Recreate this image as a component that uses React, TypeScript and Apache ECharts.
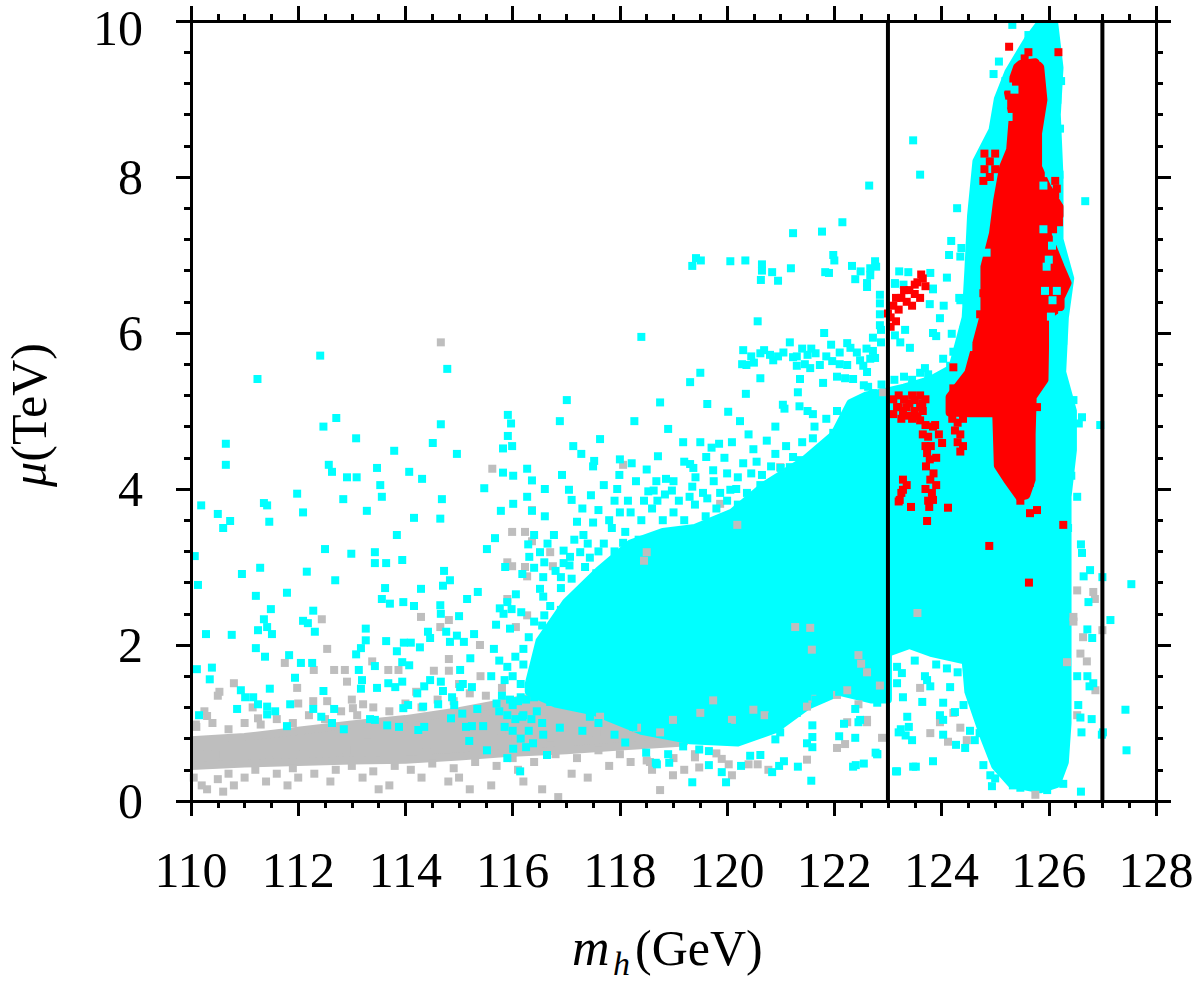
import React, { useEffect, useRef } from "react";
import * as echarts from "echarts";

type P = [number, number];

const FONT = '"Liberation Serif", "Times New Roman", serif';

// axis ranges / ticks
const xRange: P = [110, 128];
const yRange: P = [0, 10];
const xStep = 2;
const yStep = 2;
const vLines = [123, 127];

// dense cores (outlines, data coordinates)
const grayCore: P[] = [[110.0,0.45],[110.0,0.78],[111,0.82],[112,0.9],[113,0.98],[114,1.05],[115,1.15],[116,1.28],[117,1.42],[118,1.5],[119,1.3],[119.6,1.0],[119.2,0.75],[118,0.7],[117,0.65],[116,0.62],[115,0.57],[114,0.53],[113,0.52],[112,0.5],[111,0.48]];

const cyanCoreMain: P[] = [[116.3,1.5],[116.5,2.05],[117.0,2.55],[117.6,2.95],[118.2,3.3],[118.8,3.45],[119.4,3.5],[120.1,3.7],[120.7,4.05],[121.4,4.35],[122.0,4.7],[122.3,5.1],[122.6,5.2],[123.0,5.25],[123.0,1.3],[122.7,1.3],[122.1,1.4],[121.5,1.22],[120.9,0.92],[120.2,0.75],[119.3,0.78],[118.4,0.9],[117.5,1.15],[116.8,1.25],[116.3,1.4]];

const cyanCoreRight: P[] = [[123.0,5.25],[123.3,5.3],[123.8,5.4],[124.2,5.55],[124.45,6.2],[124.5,6.8],[124.55,7.5],[124.65,8.2],[124.95,8.6],[125.05,9.0],[125.25,9.35],[125.6,9.75],[125.85,9.98],[126.1,9.98],[126.2,9.4],[126.15,8.8],[126.2,8.0],[126.2,7.2],[126.4,6.7],[126.3,6.2],[126.25,5.5],[126.45,5.0],[126.45,4.5],[126.35,3.9],[126.35,2.5],[126.35,1.0],[126.3,0.5],[126.15,0.22],[125.85,0.15],[125.3,0.22],[125.0,0.45],[124.8,0.8],[124.5,1.4],[124.45,1.8],[123.8,1.9],[123.4,2.0],[123.0,1.9]];

const redCore: P[] = [[125.48,9.45],[125.75,9.47],[125.84,9.41],[125.9,8.99],[125.8,8.56],[125.8,8.13],[125.97,7.87],[126.2,7.62],[126.2,7.5],[125.97,7.28],[126.22,6.85],[126.35,6.64],[126.22,6.45],[126.22,6.33],[125.93,6.2],[125.93,5.82],[125.92,5.4],[125.7,5.18],[125.68,4.7],[125.68,4.12],[125.58,3.92],[125.45,3.9],[125.22,4.12],[125.05,4.3],[125.02,4.97],[124.53,4.97],[124.15,4.98],[124.15,5.18],[124.5,5.49],[124.63,5.82],[124.8,6.26],[124.8,6.85],[124.96,7.28],[125.04,7.71],[125.15,8.13],[125.28,8.35],[125.33,8.77],[125.24,9.08],[125.41,9.41]];

// individual points
const grayPoints: P[] = [
[114.66,5.88],[115.62,4.26],[116.36,3.33],[115.99,3.01],[116.23,3.0],[115.9,2.59],[116.27,2.38],[114.29,2.36],[114.81,2.32],[112.44,2.33],[112.54,1.95],[114.65,2.23],[116.06,2.23],[115.39,2.0],[114.81,1.82],[111.75,1.77],[113.38,1.79],[110.8,1.51],[110.53,1.4],[110.5,1.35],[112.29,1.68],[112.67,1.68],[112.87,1.68],[112.91,1.53],[113.68,1.68],[113.87,1.68],[114.53,1.67],[114.81,1.67],[111.98,1.45],[112.28,1.28],[112.54,1.28],[113.21,1.24],[113.02,1.19],[110.3,1.09],[110.09,0.98],[111.25,1.06],
[116.36,3.73],[119.87,3.81],[120.19,3.54],[115.99,3.45],[116.23,3.45],[116.7,3.19],[115.9,3.06],[116.27,2.88],[116.75,3.01],[118.45,3.08],[118.5,3.19],[116.0,1.14],[116.27,1.0],[116.04,0.97],[116.45,1.01],[116.64,1.1],[116.7,0.81],[115.9,0.82],[117.57,0.88],[117.63,1.08],[118.32,0.94],[118.75,0.88],[118.99,1.04],[119.5,1.13],[119.74,1.29],[120.09,1.04],[120.49,1.17],[120.7,1.1],[121.49,1.21],[122.24,1.42],[122.45,1.87],[122.61,1.65],[122.85,1.48],[122.05,1.36],[121.55,2.22],[121.27,2.23],[121.58,1.94],[122.91,5.24],[120.99,4.28],[118.06,4.31],
[116.2,0.25],[116.55,0.15],[116.85,0.05],[117.1,0.35],[117.4,0.3],[117.8,0.45],[118.2,0.5],[118.6,0.4],[119.0,0.55],[119.4,0.6],[115.6,0.2],[115.2,0.15],[114.8,0.25],[114.3,0.3],[113.7,0.2],[113.2,0.3],[112.6,0.25],[112.0,0.3],[111.4,0.25],[110.8,0.2],[110.3,0.15],
[118.99,0.33],[118.75,0.14],[118.56,0.5],[119.2,0.4],[119.48,0.43],[120.09,0.33],[120.03,0.47],[119.9,0.54],[119.8,0.61],[120.4,0.47],[120.57,0.47],[120.77,0.4],[121.49,0.53],[122.05,0.68],[122.2,0.73],[122.24,1.01],[122.61,1.01],[122.45,1.24],[121.59,1.31],[122.89,0.81],[118.5,0.52],[119.4,0.56],
[126.53,2.70],[126.83,2.68],[126.86,2.59],[126.46,2.36],[126.46,2.3],[126.64,2.10],[126.71,1.79],[126.87,1.42],[126.53,1.10],[126.34,1.78],[127.0,2.19],[126.59,1.89],[123.55,2.41],[123.6,1.45],[123.97,1.01],[124.12,0.76],[124.35,0.94],[124.47,0.78],[123.79,0.87],[124.22,1.13],[125.75,0.08],[122.61,1.04],[122.5,1.76],
[110.1,0.95],[110.4,1.0],[110.7,0.92],[111.0,1.0],[111.3,0.98],[111.6,1.05],[111.9,1.0],[112.2,1.1],[112.5,1.05],[112.8,1.15],[113.1,1.1],[113.4,1.2],[113.7,1.15],[114.0,1.25],[114.3,1.2],[114.6,1.3],[114.9,1.28],[115.2,1.38],[115.5,1.35],[115.8,1.45],[110.25,1.15],[111.15,1.2],[112.0,1.25],[113.0,1.3],[114.2,1.4],[115.0,1.5],[115.4,1.6],
[110.05,0.3],[110.2,0.2],[110.5,0.28],[110.7,0.35],[111.0,0.3],[111.2,0.4],[111.6,0.35],[111.9,0.42],[112.3,0.35],[112.7,0.4],[113.0,0.45],[113.4,0.38],[113.8,0.45],[114.1,0.4],[114.5,0.48],[114.9,0.42],[115.3,0.5],[115.7,0.45],[116.0,0.55],[116.4,0.5],[116.8,0.6],[117.2,0.55],[117.6,0.65],[118.0,0.6],[110.6,0.12],[111.8,0.2],[113.5,0.15],[115.0,0.3],[116.1,0.4],
[110.45,0.6],[110.9,0.55],[111.45,0.62],[112.1,0.6],[112.9,0.66],[113.6,0.7],[114.4,0.72],[115.1,0.8],[115.8,0.9],[110.3,0.7],[111.7,0.75],[113.3,0.85],[114.7,0.95],[115.5,1.05]
];

const cyanPoints: P[] = [
[112.41,5.71],[111.24,5.41],[114.78,5.54],[112.71,4.91],[112.47,4.80],[113.08,4.65],[110.65,4.58],[110.65,4.31],[112.57,4.31],[112.63,4.22],[112.91,4.15],[113.09,4.15],[113.47,4.27],[113.79,4.49],[113.53,4.05],[113.56,3.90],[114.07,4.22],[114.31,4.13],[114.51,4.59],[114.66,4.83],[114.96,4.45],[115.91,4.68],[115.99,4.55],[115.82,4.21],[115.47,4.01],[116.27,3.90],[116.01,3.81],[115.78,3.72],[116.36,3.72],[114.68,3.87],[114.65,3.62],[114.16,3.63],[113.28,3.72],[112.84,3.87],[111.98,3.94],[112.09,3.70],[110.19,3.79],[110.50,3.68],[110.73,3.59],[110.60,3.50],[111.36,3.82],[111.42,3.79],[111.46,3.58],[113.84,3.41],[115.67,3.37],[115.52,3.23],[116.31,3.13],[116.40,2.99],[115.86,3.00],[110.07,3.14],[112.50,3.23],[112.99,3.17],[113.43,3.19],[113.43,3.05],[113.64,3.05],[113.94,3.09],[114.72,2.95],[114.83,2.83],[114.70,2.76],[114.29,2.72],[113.62,2.73],[113.56,2.59],[113.71,2.53],[113.96,2.55],[114.16,2.50],[114.65,2.51],[114.66,2.40],[115.00,2.37],[115.15,2.59],[115.35,2.68],[116.06,2.65],[116.16,2.42],[116.59,2.38],[116.51,2.72],[115.76,2.47],[115.69,2.26],[115.95,2.21],[110.13,2.77],[110.95,2.91],[111.29,2.99],[111.21,2.63],[111.49,2.46],[111.79,2.67],[112.16,2.94],[112.69,2.83],[112.28,2.44],[112.09,2.31],[112.18,2.28],[112.31,2.17],[111.36,2.33],[111.25,2.19],[111.42,2.23],[111.51,2.14],[110.76,2.13],[110.28,2.14],[111.21,1.96],[111.38,1.85],[111.83,1.87],[112.05,1.77],[112.26,1.77],[113.26,2.21],[113.26,2.06],[113.17,1.96],[113.08,1.88],[113.64,2.05],[113.84,1.92],[113.97,2.03],[114.10,2.03],[114.27,1.97],[114.42,2.17],[114.46,2.09],[114.76,2.17],[114.83,2.04],[114.96,2.12],[115.09,2.04],[115.28,2.14],[115.21,1.83],[113.94,1.78],[114.07,1.74],[113.43,1.73],[113.13,1.68],[113.19,1.55],[113.17,1.44],[113.47,1.45],[113.68,1.51],[113.81,1.46],[113.94,1.53],[114.22,1.38],[114.35,1.47],[114.46,1.55],[114.66,1.53],[114.70,1.41],[114.87,1.33],[115.02,1.46],[115.07,1.50],[115.24,1.46],[115.02,1.68],[110.11,1.69],[110.39,1.71],[110.35,1.56],[110.93,1.42],[111.01,1.33],[111.16,1.33],[111.47,1.44],[111.25,1.24],[111.42,1.21],[111.57,1.15],[111.42,1.11],[110.86,1.18],[110.15,1.10],[111.85,1.24],[111.94,1.58],[112.28,1.18],[112.47,1.41],[112.43,1.08],[112.67,1.18],[112.63,1.00],[112.85,0.92],[111.79,0.96],[113.34,1.05],[113.43,1.04],[113.66,0.97],[113.88,0.95],[113.96,1.19],[114.05,1.23],[114.33,1.21],[114.61,1.24],[114.35,0.95],[114.24,0.91],[114.85,1.06],[114.91,1.23],[115.06,1.12],[115.19,0.77],[115.13,0.95],[115.24,0.96],[115.52,0.65],[115.34,1.18],[115.45,0.96],[115.90,0.55],[116.14,0.38],[116.01,0.67],[116.25,0.69],[116.38,0.74],[116.57,0.85],[116.64,0.59],
[115.75,1.80],[115.9,1.72],[116.05,1.85],[116.2,1.75],[115.85,1.55],[116.0,1.6],[116.15,1.5],[115.8,1.35],[115.95,1.3],[116.1,1.28],[116.25,1.3],[115.9,1.1],[116.05,1.05],[116.2,1.1],[116.35,1.05],[115.75,1.15],[116.0,0.9],[116.3,0.9],[116.15,0.8],[115.85,0.95],[115.65,1.95],[115.6,1.6],[115.7,1.25],[116.45,1.15],[116.55,1.0],
[122.15,7.42],[121.77,7.30],[121.98,7.0],[122.0,6.93],[119.42,6.96],[119.51,6.93],[119.35,6.86],[120.06,6.92],[120.34,6.93],[120.65,6.88],[120.65,6.8],[120.84,6.78],[120.63,6.68],[120.95,6.67],[121.19,6.83],[121.83,6.78],[121.9,6.77],[122.33,6.86],[122.39,6.69],[122.49,6.79],[122.67,6.83],[122.76,6.92],[122.61,6.64],[122.85,6.49],[122.85,6.24],[122.87,6.04],[122.72,5.94],[120.57,6.15],[121.81,6.0],[118.4,5.95],[121.23,7.28],
[120.3,5.78],[120.28,5.6],[120.36,5.59],[120.62,5.74],[120.69,5.78],[120.86,5.65],[120.95,5.7],[121.17,5.88],[121.23,5.69],[121.4,5.8],[121.45,5.6],[121.57,5.8],[121.65,5.74],[121.94,5.85],[121.96,5.64],[122.24,5.87],[122.3,5.81],[122.24,5.59],[122.48,5.65],[122.67,5.67],[122.76,5.68],[122.54,5.58],[121.55,5.55],[121.73,5.59],[121.79,5.36],[122.05,5.44],[122.2,5.42],[122.35,5.41],[119.5,5.49],[119.31,5.37],[120.62,5.42],[121.36,5.41],[120.35,5.22],[121.32,5.24],[121.04,5.08],[121.07,5.03],[121.35,5.06],[121.6,4.96],[121.63,4.8],[122.63,5.31],[122.88,5.34],
[120.45,5.7],[120.8,5.72],[121.05,5.75],[121.3,5.7],[121.5,5.72],[121.85,5.7],[122.1,5.75],[122.42,5.75],[122.6,5.8],[122.1,5.6],[121.3,5.58],[120.5,5.62],
[117.01,5.14],[118.75,5.11],[119.63,5.09],[120.02,4.99],[120.24,4.87],[120.49,4.51],[120.74,4.62],[120.09,4.6],[119.85,4.58],[119.71,4.53],[119.5,4.6],[119.18,4.6],[118.9,4.77],[118.27,4.87],[116.88,4.87],[117.63,4.64],[117.13,4.55],[117.28,4.45],[117.52,4.36],[117.5,4.29],[115.91,4.95],[115.97,4.84],[115.82,4.52],[118.71,4.42],[118.0,4.38],[118.22,4.33],[119.31,4.32],[119.37,4.27],[119.61,4.41],[119.74,4.24],[120.3,4.33],[120.65,4.18],[120.82,4.29],[116.27,4.26],[116.01,4.17],[116.36,4.11],[116.92,4.18],[117.05,3.99],[117.46,3.92],[117.1,3.86],[117.6,3.73],[117.2,3.58],[117.5,3.57],[117.99,4.18],[117.95,4.0],[118.3,4.1],[118.68,4.1],[118.86,4.13],[119.0,4.1],[118.53,3.97],[118.63,3.98],[118.84,3.93],[118.97,3.98],[119.35,4.03],[119.41,4.15],[119.63,3.88],[119.87,3.95],[120.06,3.99],[120.17,4.0],[120.37,3.95],[120.62,4.05],[120.75,3.82],[120.94,3.9],[121.04,4.04],[121.24,4.15],[121.17,4.28],[121.36,4.37],[121.55,4.28],[121.73,4.27],[121.73,4.47],[121.9,4.46],[122.08,4.54],[121.98,4.72],[122.2,4.8],[121.23,4.41],[121.0,4.27],
[118.2,3.7],[118.4,3.6],[118.6,3.75],[118.8,3.6],[119.0,3.7],[119.2,3.6],[119.4,3.8],[119.6,3.65],[119.8,3.75],[120.0,3.85],[120.2,3.8],[118.1,3.45],[118.35,3.35],[117.9,3.2],[117.7,3.3],[117.85,3.5],
[116.8,2.95],[117.1,2.85],[117.35,3.0],[117.6,3.2],[117.4,3.3],[117.15,3.35],[116.95,3.05],[116.65,3.3],[117.8,3.6],[118.0,3.7],[118.15,3.85],[118.45,3.85],[118.7,3.85],[119.1,3.85],[119.3,3.9],[119.55,3.95],[119.75,4.1],[120.0,4.2],[120.2,4.15],[120.45,4.2],[120.55,4.35],[120.9,4.45],[121.1,4.55],[121.4,4.6],[121.6,4.65],[121.85,4.9],[122.05,5.0],[121.5,5.0],[120.9,4.8],[120.4,4.7],[119.95,4.4],[119.2,4.35],[118.5,4.25],[117.7,4.05],[117.3,3.75],[116.6,3.65],[116.6,4.0],[117.9,3.85],
[117.07,3.13],[117.26,3.19],[116.95,3.21],[117.44,3.12],[116.59,3.06],[116.77,3.41],[117.32,3.41],[116.4,3.41],[116.29,3.29],[116.51,3.19],[117.06,3.02],[116.57,2.87],[116.18,2.91],[116.9,2.87],[116.9,2.73],[116.57,2.62],[117.56,2.92],[117.76,3.0],[118.06,2.92],[117.82,2.84],[117.97,3.18],[118.06,3.31],[118.15,3.04],[117.97,2.55],[117.7,2.53],[115.9,2.55],[115.98,2.46],[115.83,2.4],
[116.7,2.5],[116.9,2.45],[117.2,2.6],[117.4,2.5],[116.8,2.2],[117.05,2.3],[116.3,2.1],[116.55,2.25],[116.2,1.95],[116.4,2.3],[117.3,2.7],[117.5,2.75],
[116.88,0.94],[116.18,1.08],[118.25,0.95],[119.35,0.95],[120.0,0.95],[119.9,1.05],[119.72,1.13],[120.84,1.08],[121.1,1.21],[121.3,1.13],[121.59,0.97],[122.39,1.18],[122.8,1.26],[122.45,1.39],[122.09,1.4],[121.65,1.3],[121.5,1.34],[121.05,1.35],[121.14,1.45],[118.69,1.17],[118.16,1.08],[117.44,1.08],[117.2,1.24],[116.7,1.27],[116.4,1.33],[116.0,1.23],[116.15,1.33],[118.94,1.29],[119.22,1.4],
[119.35,0.24],[119.98,0.24],[119.9,0.37],[119.66,0.46],[119.18,0.7],[119.2,0.83],[118.92,0.49],[118.9,0.6],[118.69,0.47],[120.26,0.45],[120.84,0.37],[120.97,0.45],[121.06,0.51],[121.32,0.44],[121.57,0.26],[121.49,0.74],[121.59,0.69],[121.59,0.82],[122.09,0.83],[122.39,0.81],[122.45,1.01],[122.18,0.99],[122.35,0.44],[122.4,0.46],[122.8,0.6],[120.99,0.88],[120.9,0.79],[120.62,0.59],[120.43,0.58],[119.66,0.64],[119.48,0.66],[118.67,0.49],[118.49,0.62],[123.15,0.38],[123.2,0.88],
[117.6,1.0],[117.9,0.85],[118.1,0.75],[117.3,0.9],
[125.32,9.95],[125.62,9.82],[125.07,9.48],[124.97,9.32],[125.19,9.23],[126.23,9.23],[125.15,8.94],[123.47,8.47],[123.6,8.03],[122.65,7.89],[126.68,7.69],[124.29,7.6],[124.18,7.18],[124.37,7.09],[124.14,7.0],[124.57,7.19],[124.1,6.71],[123.79,6.77],[122.78,6.85],[123.21,6.79],[123.38,6.78],[122.67,6.74],[123.13,6.63],[123.84,6.56],[124.33,6.45],[126.03,9.93],[126.07,9.78],[126.03,9.7],[126.15,9.49],[125.9,9.53],[125.24,9.16],[125.36,9.12],[126.16,8.99],[126.06,8.9],[126.0,8.64],[126.21,8.62],[125.12,8.7],[125.25,8.77],[124.85,8.26],[124.74,8.17],[126.0,8.38],[126.06,8.26],[126.15,8.29],[126.0,8.05],[126.2,8.03],[125.9,7.89],[124.78,7.87],[124.72,7.61],[124.66,7.42],[124.78,7.33],[124.84,7.03],[125.9,7.33],[126.06,7.12],[126.15,7.18],[126.0,6.94],[124.63,6.72],[124.63,6.54],[125.96,6.85],[125.93,6.54],[124.35,6.98],
[122.61,6.59],[122.85,6.38],[122.85,6.1],[122.87,5.88],[122.72,5.77],[122.61,5.5],[122.55,5.33],[122.73,5.1],[122.6,4.94],[123.13,6.64],[123.29,6.62],[123.84,6.57],[123.78,6.37],[124.04,6.35],[123.97,6.19],[124.35,6.42],[124.47,6.4],[123.32,6.04],[123.13,5.97],[123.23,5.88],[123.41,5.81],[123.84,6.0],[123.9,5.96],[124.19,5.99],[124.41,6.04],[124.41,5.91],[124.5,5.82],[124.22,5.76],[124.03,5.67],[124.16,5.58],[123.69,5.55],[123.75,5.47],[123.6,5.49],[123.45,5.4],[123.3,5.44],[123.12,5.4],[126.08,5.1],[126.2,5.05],[126.46,5.14],[126.62,4.92],[126.56,4.84],[126.21,5.65],[126.16,6.04],[126.27,5.9],[126.13,5.82],[126.25,6.23],[126.04,6.21],[126.07,6.42],[126.15,6.54],[126.96,4.82],[126.36,4.37],[126.42,4.17],[126.53,3.9],[126.34,3.68],[126.36,3.5],[126.25,3.38],[123.47,5.04],[122.72,5.23],
[127.54,2.78],[127.15,2.32],[127.0,2.87],[127.43,1.17],[127.45,0.65],[127.01,0.88],[126.99,0.85],[126.83,1.51],[126.76,1.47],[126.72,1.6],[126.81,2.09],[126.72,2.2],[126.74,2.55],[126.77,2.96],[126.65,2.88],[126.62,3.18],[126.6,3.29],[126.55,1.23],[126.61,0.88],[126.53,1.6],[126.59,1.07],[126.8,1.05],[126.6,0.12],[126.27,0.22],[125.97,0.14],[125.47,0.17],[125.33,0.2],[124.94,0.19],[124.91,0.33],[125.0,0.29],[124.78,0.46],[124.41,1.23],[124.44,0.68],[124.62,0.78],[124.71,0.87],[124.53,0.9],[124.27,0.72],[124.03,0.85],[123.84,0.51],[123.47,0.44],[123.52,0.44],[123.17,0.38],[122.8,0.6],[122.55,0.48],[123.39,0.95],[123.24,0.92],[123.33,0.84],[123.45,0.78],[123.36,1.08],[123.28,1.33],[123.64,1.27],[123.97,1.1],[124.03,1.26],[123.73,1.55],[123.79,1.47],[123.17,1.51],[123.17,1.72],[123.26,1.64],[123.69,1.6],[124.16,1.46],[124.25,1.14],[124.03,1.04],[122.77,0.62],[122.48,1.04],
[123.9,1.75],[124.1,1.7],[124.3,1.65],[123.5,1.8]
];

const redPoints: P[] = [
[125.26,9.67],[125.62,9.6],[126.18,9.6],[125.55,9.52],[124.8,8.3],[124.9,8.2],[124.8,8.1],[124.9,8.0],[125.0,8.3],[124.78,7.95],[125.0,8.1],
[126.12,7.95],[126.15,7.85],[126.12,7.78],[126.18,7.6],[126.19,7.42],[126.08,7.33],
[125.78,5.05],[125.09,4.69],[124.78,6.51],[124.72,6.24],[124.22,5.56],[124.22,5.29],[124.01,4.59],[123.88,4.82],[123.75,4.67],[123.73,4.46],[123.71,4.29],[123.79,4.12],[123.82,3.95],[123.84,3.86],[123.77,3.77],[123.28,4.12],[123.28,3.99],[123.22,3.86],[123.2,3.84],[123.43,3.77],[123.73,3.59],[124.12,3.76],[123.17,5.05],[123.28,5.0],[123.39,4.94],[123.5,5.14],[123.6,5.05],[123.64,5.1],[123.45,4.9],[123.1,4.96],[123.55,4.93],[123.84,4.8],[123.95,4.7],[123.8,4.55],[123.78,4.38],
[123.1,5.15],[123.2,5.2],[123.3,5.15],[123.4,5.1],[123.45,5.2],[123.6,5.2],[123.7,5.15],[123.2,5.05],[123.35,5.05],[123.5,5.0],[123.65,5.0],[123.25,4.9],[123.6,4.88],[123.7,4.82],
[123.65,4.7],[123.7,4.55],[123.9,4.4],[123.85,4.2],[123.7,4.0],[123.9,4.05],[123.75,3.85],[123.35,4.05],[123.25,3.95],
[125.65,4.08],[125.56,3.97],[125.47,3.85],[125.78,3.73],[125.65,3.69],[126.27,3.54],[124.89,3.27],[125.63,2.8],
[124.2,4.9],[124.3,4.85],[124.4,4.9],[124.25,4.75],[124.35,4.7],[124.3,4.6],[124.4,4.55],[124.35,4.48],
[123.05,6.2],[123.1,6.35],[123.2,6.3],[123.25,6.45],[123.35,6.4],[123.4,6.55],[123.5,6.5],[123.55,6.65],[123.65,6.7],[123.7,6.6],[123.3,6.55],[123.45,6.35],[123.6,6.45],[123.15,6.15],[123.0,6.25],[123.62,6.75],[123.5,6.62],[123.15,6.45],[123.05,6.08]
];

const GRAY = "#bebebe";
const CYAN = "#00ffff";
const RED = "#ff0000";

function areaSeries(pts: P[], color: string) {
  return {
    type: "custom",
    coordinateSystem: "cartesian2d",
    clip: true,
    silent: true,
    data: [pts[0]],
    renderItem: (_params: any, api: any) => ({
      type: "polygon",
      shape: { points: pts.map((p) => api.coord(p)) },
      style: { fill: color, stroke: color, lineWidth: 8, lineJoin: "round" },
    }),
  };
}

function pointSeries(pts: P[], color: string) {
  return {
    type: "scatter",
    data: pts,
    symbol: "rect",
    symbolSize: 8,
    itemStyle: { color, opacity: 1 },
    silent: true,
    clip: true,
  };
}

export default function App() {
  const ref = useRef<HTMLDivElement>(null);
  useEffect(() => {
    if (!ref.current) return;
    const chart = echarts.init(ref.current, undefined, { renderer: "svg" });
    const axisCommon = {
      type: "value",
      axisLine: { show: true, onZero: false, lineStyle: { color: "#000", width: 3 } },
      axisTick: { show: true, inside: false, length: 15, lineStyle: { color: "#000", width: 3 } },
      minorTick: { show: true, length: 7, lineStyle: { color: "#000", width: 3 } },
      splitLine: { show: false },
      minorSplitLine: { show: false },
      z: 10,
    };
    const labelStyle = { fontSize: 50, lineHeight: 40, fontFamily: FONT, color: "#000" };
    const option: any = {
      animation: false,
      textStyle: { fontFamily: FONT },
      grid: { left: 191, right: 40, top: 21, bottom: 183, containLabel: false, outerBoundsMode: "none" },
      xAxis: [
        {
          ...axisCommon,
          position: "bottom",
          min: xRange[0],
          max: xRange[1],
          interval: xStep,
          minorTick: { ...axisCommon.minorTick, splitNumber: 4 },
          axisLabel: { ...labelStyle, margin: 49, showMinLabel: true, showMaxLabel: true },
        },
        {
          ...axisCommon,
          position: "top",
          min: xRange[0],
          max: xRange[1],
          interval: xStep,
          minorTick: { ...axisCommon.minorTick, splitNumber: 4 },
          axisLabel: { show: false },
        },
      ],
      yAxis: [
        {
          ...axisCommon,
          position: "left",
          min: yRange[0],
          max: yRange[1],
          interval: yStep,
          minorTick: { ...axisCommon.minorTick, splitNumber: 5 },
          axisLabel: {
            ...labelStyle,
            margin: 48,
            showMinLabel: true,
            showMaxLabel: true,
            formatter: (v: number) => (v === yRange[1] ? `{t|${v}}` : `${v}`),
            rich: { t: { fontSize: 50, lineHeight: 40, fontFamily: FONT, color: "#000", padding: [14, 0, 0, 0] } },
          },
        },
        {
          ...axisCommon,
          position: "right",
          min: yRange[0],
          max: yRange[1],
          interval: yStep,
          minorTick: { ...axisCommon.minorTick, splitNumber: 5 },
          axisLabel: { show: false },
        },
      ],
      series: [
        areaSeries(grayCore, GRAY),
        pointSeries(grayPoints, GRAY),
        areaSeries(cyanCoreMain, CYAN),
        areaSeries(cyanCoreRight, CYAN),
        pointSeries(cyanPoints, CYAN),
        areaSeries(redCore, RED),
        pointSeries(redPoints, RED),
        ...vLines.map((v) => ({
          type: "line",
          data: [[v, yRange[0]], [v, yRange[1]]],
          symbol: "none",
          silent: true,
          z: 5,
          lineStyle: { color: "#000", width: 4 },
        })),
      ],
      graphic: [
        {
          type: "text",
          x: 572,
          y: 947,
          style: { text: "m", font: `italic 52px ${FONT}`, fill: "#000", align: "left", verticalAlign: "middle", textAlign: "left", textVerticalAlign: "middle", lineHeight: 40 },
        },
        {
          type: "text",
          x: 613,
          y: 963,
          style: { text: "h", font: `italic 34px ${FONT}`, fill: "#000", align: "left", verticalAlign: "middle", textAlign: "left", textVerticalAlign: "middle", lineHeight: 24 },
        },
        {
          type: "text",
          x: 635,
          y: 948,
          style: { text: "(GeV)", font: `50px ${FONT}`, fill: "#000", align: "left", verticalAlign: "middle", textAlign: "left", textVerticalAlign: "middle", lineHeight: 46 },
        },
        {
          type: "text",
          x: 29,
          y: 415,
          rotation: Math.PI / 2,
          style: {
            text: "{i|μ}{n|(TeV)}",
            fill: "#000",
            align: "center",
            verticalAlign: "middle",
            textAlign: "center",
            textVerticalAlign: "middle",
            rich: {
              i: { fontStyle: "italic", fontSize: 50, lineHeight: 46, fontFamily: FONT, fill: "#000" },
              n: { fontSize: 50, lineHeight: 46, fontFamily: FONT, fill: "#000" },
            },
          },
        },
      ],
    };
    chart.setOption(option);
    return () => chart.dispose();
  }, []);
  return (
    <div
      ref={ref}
      style={{ position: "absolute", left: 0, top: 0, width: 1196, height: 984, background: "#fff" }}
    />
  );
}
